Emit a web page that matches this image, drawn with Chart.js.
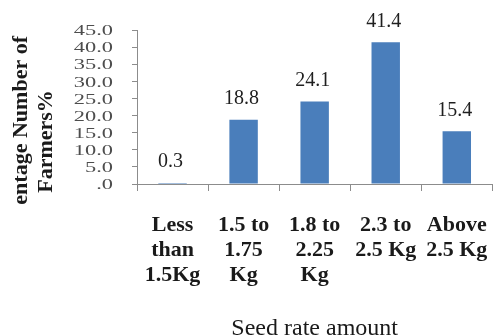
<!DOCTYPE html>
<html>
<head>
<meta charset="utf-8">
<script src="https://cdn.jsdelivr.net/npm/chart.js@4.4.1/dist/chart.umd.min.js"></script>
<style>
  html, body { margin: 0; padding: 0; background: #fff; overflow: hidden; width: 496px; height: 335px; }
  #wrap { width: 510px; height: 335px; }
</style>
</head>
<body>
<div id="wrap"><canvas id="c" width="510" height="335"></canvas></div>
<script>
// Seed rate classes (multi-line category labels)
const categories = [
  ["Less", "than", "1.5Kg"],
  ["1.5 to", "1.75", "Kg"],
  ["1.8 to", "2.25", "Kg"],
  ["2.3 to", "2.5 Kg"],
  ["Above", "2.5 Kg"]
];
// Share of farmers in each class, %
const farmersPct = [0.3, 18.8, 24.1, 41.4, 15.4];
// Value axis ticks and their printed form
const yTicks = [0, 5, 10, 15, 20, 25, 30, 35, 40, 45];
const yTickLabels = [".0", "5.0", "10.0", "15.0", "20.0", "25.0", "30.0", "35.0", "40.0", "45.0"];
const yTitleLines = ["Percentage Number of", "Farmers%"];
const xTitle = "Seed rate amount";

const SERIF = "'Liberation Serif', 'Times New Roman', serif";
const AXIS_GREY = '#8c8c8c';

// Draws the value-axis labels, the rotated axis title and the value over each bar
const overlay = {
  id: 'overlay',
  afterDraw(chart) {
    const ctx = chart.ctx;
    const yScale = chart.scales.y;

    // value-axis tick labels (wide serif digits)
    ctx.save();
    ctx.fillStyle = '#4d4d4d';
    ctx.font = '14px ' + SERIF;
    ctx.textAlign = 'right';
    ctx.textBaseline = 'middle';
    yTicks.forEach((v, i) => {
      const py = yScale.getPixelForValue(v);
      ctx.save();
      ctx.translate(113, py + 1.5);
      ctx.scale(1.6, 1);
      ctx.fillText(yTickLabels[i], 0, 0);
      ctx.restore();
    });
    ctx.restore();

    // value labels above the bars
    const meta = chart.getDatasetMeta(0);
    ctx.save();
    ctx.font = '20px ' + SERIF;
    ctx.fillStyle = '#1f1f1f';
    ctx.textAlign = 'center';
    ctx.textBaseline = 'alphabetic';
    meta.data.forEach((bar, i) => {
      ctx.fillText(farmersPct[i].toFixed(1), bar.x - 2, bar.y - 15.5);
    });
    ctx.restore();

    // rotated value-axis title
    ctx.save();
    ctx.beginPath();
    ctx.rect(0, 0, 120, 204);
    ctx.clip();
    ctx.font = 'bold 22px ' + SERIF;
    ctx.fillStyle = '#1a1a1a';
    ctx.textAlign = 'center';
    ctx.textBaseline = 'alphabetic';
    ctx.translate(27, 141.5);
    ctx.rotate(-Math.PI / 2);
    ctx.fillText(yTitleLines[0], 0, 0);
    ctx.fillText(yTitleLines[1], 0, 25);
    ctx.restore();
  }
};

new Chart(document.getElementById('c'), {
  type: 'bar',
  data: {
    labels: categories,
    datasets: [{
      data: farmersPct,
      backgroundColor: '#4A7EBB',
      borderWidth: 0,
      categoryPercentage: 1.0,
      barPercentage: 0.4
    }]
  },
  options: {
    responsive: false,
    animation: false,
    devicePixelRatio: 1,
    layout: { padding: { left: 0, top: 30, right: 6.5, bottom: 0 } },
    plugins: {
      legend: { display: false },
      tooltip: { enabled: false }
    },
    scales: {
      x: {
        grid: { display: true, drawOnChartArea: false, drawTicks: true, tickLength: 7, color: AXIS_GREY, offset: true },
        border: { display: true, color: AXIS_GREY },
        ticks: {
          color: '#1a1a1a',
          font: { family: SERIF, size: 22, weight: 'bold', lineHeight: 1.136 },
          padding: 22,
          maxRotation: 0,
          minRotation: 0,
          autoSkip: false
        },
        title: {
          display: true,
          text: xTitle,
          color: '#1a1a1a',
          font: { family: SERIF, size: 24, lineHeight: 0.5 },
          padding: 0
        },
        afterFit(scale) { scale.height = 151; }
      },
      y: {
        min: 0,
        max: 45,
        ticks: { display: false, stepSize: 5 },
        grid: { display: true, drawOnChartArea: false, drawTicks: true, tickLength: 5, color: AXIS_GREY },
        border: { display: true, color: AXIS_GREY },
        afterFit(scale) { scale.width = 137; }
      }
    }
  },
  plugins: [overlay]
});
</script>
</body>
</html>
